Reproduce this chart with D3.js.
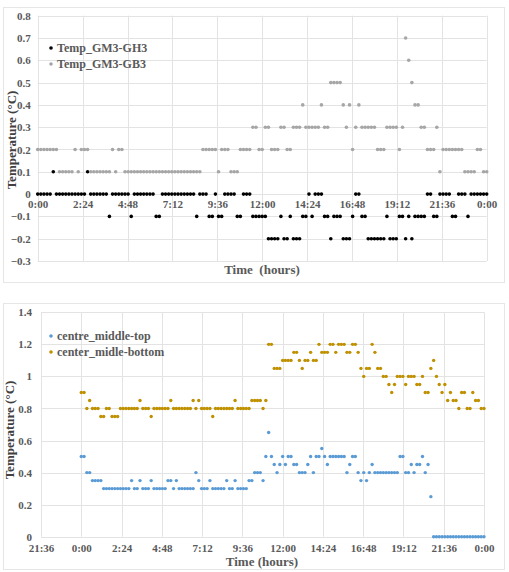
<!DOCTYPE html>
<html><head><meta charset="utf-8">
<script src="https://cdn.jsdelivr.net/npm/d3@7"></script>
<style>
body{margin:0;background:#fff;}
svg{display:block;}
</style></head>
<body><svg id="c" width="509" height="572"></svg>
<script>
// ---------- DATA ----------
// Samples every 10 minutes starting at 0:00 (index i -> i*10 min)
const sampleMinutes = 10;
const topSeriesNames = ["Temp_GM3-GH3", "Temp_GM3-GB3"];
const gh3 = [0,0,0,0,0,0.1,0,0,0,0, 0,0,0,0,0,0,0.1,0,0,0, 0,0,0,-0.1,0,0,0,0,0,0,
 -0.1,0,0,0,0,0,0,0,-0.1,-0.1, 0,0,0,0,0,0,0,0,0,0, 0,-0.1,0,0,0,-0.1,-0.1,0,-0.1,-0.1,
 0,0,0,0,-0.1,-0.1,0,0,0,-0.1, -0.1,-0.1,-0.1,-0.1,-0.2,-0.2,-0.2,-0.2,-0.1,-0.2, -0.2,-0.1,-0.2,-0.2,-0.2,-0.1,-0.1,0,-0.1,0,
 0,0,-0.1,-0.1,-0.2,-0.1,-0.1,-0.1,-0.2,-0.2, -0.2,-0.1,0,0,-0.1,-0.1,-0.2,-0.2,-0.2,-0.2, -0.2,-0.2,-0.1,-0.2,-0.2,-0.2,-0.1,-0.1,-0.2,-0.1,
 -0.2,-0.1,-0.1,-0.1,-0.1,0,0,-0.1,-0.1,0, 0,0,0,-0.1,-0.1,0,0,0,-0.1,0, 0,0,0,0,0];
const gb3 = [0.2,0.2,0.2,0.2,0.2,0.2,0.2,0.1,0.1,0.1, 0.1,0.1,0.2,0.1,0.2,0.2,0.2,0.1,0.1,0.1, 0.1,0.1,0.1,0.1,0.2,0.1,0.2,0.2,0.1,0.1,
 0.1,0.1,0.1,0.1,0.1,0.1,0.1,0.1,0.1,0.1, 0.1,0.1,0.1,0.1,0.1,0.1,0.1,0.1,0.1,0.1, 0.1,0.1,0.1,0.2,0.2,0.2,0.2,0.2,0.1,0.2,
 0.2,0.2,0.1,0.1,0.1,0.2,0.2,0.2,0.2,0.3, 0.3,0.2,0.2,0.3,0.3,0.2,0.2,0.2,0.3,0.3, 0.2,0.2,0.3,0.3,0.3,0.4,0.3,0.3,0.3,0.3,
 0.3,0.4,0.3,0.3,0.5,0.5,0.5,0.5,0.4,0.3, 0.4,0.2,0.3,0.4,0.3,0.3,0.3,0.3,0.3,0.2, 0.2,0.2,0.3,0.3,0.3,0.3,0.2,0.3,0.7,0.6,
 0.5,0.4,0.4,0.3,0.3,0.2,0.2,0.2,0.3,0.1, 0.2,0.2,0.2,0.2,0.2,0.2,0.2,0.1,0.1,0.1, 0.1,0.2,0.2,0.1,0.1];

const bottomSeriesNames = ["centre_middle-top", "center_midle-bottom"];
const middleTop = [0.5,0.5,0.4,0.4,0.35,0.35,0.35,0.35,0.3,0.3, 0.3,0.3,0.3,0.3,0.3,0.3,0.3,0.3,0.35,0.3, 0.3,0.35,0.3,0.3,0.3,0.35,0.3,0.3,0.3,0.3,
 0.3,0.35,0.35,0.3,0.35,0.3,0.3,0.3,0.3,0.3, 0.3,0.4,0.35,0.3,0.3,0.3,0.35,0.3,0.3,0.3, 0.3,0.3,0.35,0.3,0.3,0.35,0.3,0.3,0.3,0.3,
 0.35,0.35,0.4,0.4,0.4,0.35,0.5,0.65,0.5,0.45, 0.4,0.45,0.5,0.45,0.5,0.5,0.45,0.45,0.4,0.4, 0.4,0.45,0.5,0.4,0.5,0.5,0.55,0.5,0.45,0.5,
 0.5,0.5,0.5,0.5,0.5,0.4,0.45,0.5,0.5,0.4, 0.35,0.4,0.35,0.4,0.45,0.4,0.4,0.4,0.4,0.4, 0.4,0.4,0.4,0.4,0.5,0.5,0.4,0.4,0.45,0.4,
 0.45,0.45,0.5,0.4,0.45,0.25,0,0,0,0, 0,0,0,0,0,0,0,0,0,0, 0,0,0,0,0];
const middleBottom = [0.9,0.9,0.8,0.85,0.8,0.8,0.8,0.75,0.75,0.8, 0.8,0.75,0.75,0.75,0.8,0.8,0.8,0.8,0.8,0.8, 0.8,0.85,0.8,0.8,0.8,0.75,0.8,0.8,0.8,0.8,
 0.8,0.8,0.85,0.8,0.8,0.8,0.8,0.8,0.8,0.8, 0.85,0.8,0.85,0.8,0.8,0.8,0.8,0.75,0.8,0.8, 0.8,0.8,0.8,0.8,0.8,0.85,0.8,0.8,0.8,0.8,
 0.8,0.85,0.85,0.85,0.85,0.8,0.85,1.2,1.2,1.05, 1.05,1.05,1.1,1.1,1.1,1.1,1.15,1.15,1.1,1.05, 1.1,1.1,1.15,1.1,1.1,1.2,1.15,1.15,1.15,1.2,
 1.2,1.15,1.2,1.2,1.2,1.15,1.15,1.2,1.2,1.15, 1.05,1.0,1.05,1.05,1.2,1.15,1.05,1.05,1.0,1.0, 0.95,0.9,0.95,1.0,1.0,1.0,0.95,1.0,1.0,1.0,
 0.95,0.95,1.0,0.9,0.9,1.05,1.1,1.0,0.95,0.9, 0.95,0.85,0.9,0.85,0.85,0.8,0.9,0.9,0.8,0.8, 0.9,0.85,0.85,0.8,0.8];

const topTicks = [0, 2.4, 4.8, 7.2, 9.6, 12, 14.4, 16.8, 19.2, 21.6, 24];
const topTickLabels = ["0:00","2:24","4:48","7:12","9:36","12:00","14:24","16:48","19:12","21:36","0:00"];
const topYTicks = [-0.3,-0.2,-0.1,0,0.1,0.2,0.3,0.4,0.5,0.6,0.7,0.8];
const bottomTicks = [-2.4, 0, 2.4, 4.8, 7.2, 9.6, 12, 14.4, 16.8, 19.2, 21.6, 24];
const bottomTickLabels = ["21:36","0:00","2:24","4:48","7:12","9:36","12:00","14:24","16:48","19:12","21:36","0:00"];
const bottomYTicks = [0,0.2,0.4,0.6,0.8,1,1.2,1.4];

// ---------- DRAW ----------
const FONT = "'Liberation Serif', 'Times New Roman', Times, 'DejaVu Serif', serif";
const svg = d3.select("#c");
const grid = "#e3e3e3", lab = "#595959";

function frame(x0,y0,x1,y1){
  svg.append("rect").attr("x",x0+0.5).attr("y",y0+0.5).attr("width",x1-x0).attr("height",y1-y0)
    .attr("fill","#fff").attr("stroke","#e6e6e6");
}
function txt(sel, size){
  return sel.attr("font-family",FONT).attr("font-weight","bold").attr("font-size",size);
}
function chart(o){
  const x = d3.scaleLinear().domain(o.xd).range([o.L,o.R]);
  const y = d3.scaleLinear().domain(o.yd).range([o.B,o.T]);
  const g = svg.append("g");
  g.append("g").selectAll("line").data(o.yt).join("line")
    .attr("x1",o.L).attr("x2",o.R).attr("y1",d=>Math.round(y(d))+0.5).attr("y2",d=>Math.round(y(d))+0.5)
    .attr("stroke",grid);
  g.append("g").selectAll("line").data(o.xt).join("line")
    .attr("y1",o.T).attr("y2",o.B).attr("x1",d=>Math.round(x(d))+0.5).attr("x2",d=>Math.round(x(d))+0.5)
    .attr("stroke",grid);
  const ya = d3.axisLeft(y).tickValues(o.yt).tickSize(0).tickPadding(o.ypad).tickFormat(o.yf);
  const yg = g.append("g").attr("transform",`translate(${o.L},0)`).call(ya);
  yg.select(".domain").remove();
  txt(yg.attr("font-family",null).attr("font-size",null).selectAll("text").attr("fill",lab),11);
  const xa = d3.axisBottom(x).tickValues(o.xt).tickSize(0).tickPadding(o.xpad).tickFormat((d,i)=>o.xl[i]);
  const xg = g.append("g").attr("transform",`translate(0,${y(o.xAt)})`).call(xa);
  xg.select(".domain").remove();
  txt(xg.attr("font-family",null).attr("font-size",null).selectAll("text").attr("fill",lab),11);
  o.series.forEach(s=>{
    g.append("g").selectAll("circle").data(s.v).join("circle")
      .attr("cx",(d,i)=>x(i*sampleMinutes/60)).attr("cy",d=>y(d)).attr("r",s.r).attr("fill",s.c);
  });
  o.series.forEach((s,k)=>{
    const ly = o.legY + k*16;
    g.append("circle").attr("cx",o.legX).attr("cy",ly-4).attr("r",1.8).attr("fill",s.c);
    txt(g.append("text").attr("x",o.legX+6).attr("y",ly).attr("fill",lab),12).text(s.name);
  });
  txt(g.append("text").attr("transform",`translate(${o.ytx},${o.yty}) rotate(-90)`).attr("text-anchor","middle")
    .attr("fill","#404040"),13).text("Temperature (°C)");
  txt(g.append("text").attr("x",o.xtx).attr("y",o.xty).attr("text-anchor","middle")
    .attr("fill",lab).attr("xml:space","preserve").style("white-space","pre"),13).text(o.xTitle);
}

frame(3,7,504,282);
chart({L:37.7,R:486.7,T:15.7,B:261,xd:[0,24],yd:[-0.3,0.8],xt:topTicks,xl:topTickLabels,yt:topYTicks,
  yf:d=>d===0?"0":d3.format(".1f")(d), xAt:0, xpad:6, ypad:7,
  series:[{name:topSeriesNames[0],v:gh3,c:"#000",r:1.8},{name:topSeriesNames[1],v:gb3,c:"#a6a6a6",r:1.8}],
  legX:51,legY:52,ytx:16,yty:140,xtx:262,xty:274,xTitle:"Time  (hours)"});

frame(3,303,504,569);
chart({L:41,R:484,T:312.3,B:536.7,xd:[-2.4,24],yd:[0,1.4],xt:bottomTicks,xl:bottomTickLabels,yt:bottomYTicks,
  yf:d=>d===0?"0":(d===1?"1":d3.format(".1f")(d)), xAt:0, xpad:8, ypad:9,
  series:[{name:bottomSeriesNames[0],v:middleTop,c:"#5b9bd5",r:1.7},{name:bottomSeriesNames[1],v:middleBottom,c:"#bf9000",r:1.7}],
  legX:51,legY:340,ytx:14,yty:430,xtx:262,xty:566,xTitle:"Time (hours)"});
</script></body></html>
